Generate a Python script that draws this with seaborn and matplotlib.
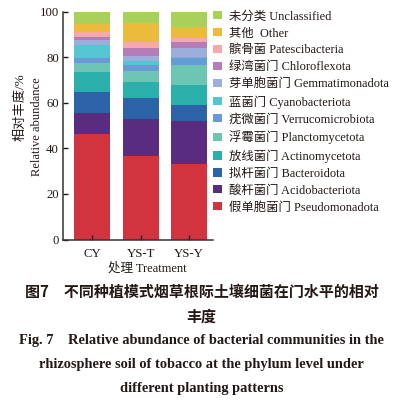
import numpy as np
import pandas as pd
import matplotlib
matplotlib.use("Agg")
import matplotlib.pyplot as plt
from matplotlib.patches import Patch
import seaborn as sns

treatments = ["CY", "YS-T", "YS-Y"]
phyla = [
    "假单胞菌门 Pseudomonadota",
    "酸杆菌门 Acidobacteriota",
    "拟杆菌门 Bacteroidota",
    "放线菌门 Actinomycetota",
    "浮霉菌门 Planctomycetota",
    "疣微菌门 Verrucomicrobiota",
    "蓝菌门 Cyanobacteriota",
    "芽单胞菌门 Gemmatimonadota",
    "绿湾菌门 Chloroflexota",
    "髌骨菌 Patescibacteria",
    "其他  Other",
    "未分类 Unclassified",
]
pseudomonadota = [46.2, 36.8, 33.3]
acidobacteriota = [9.5, 16.1, 18.9]
bacteroidota = [9.2, 9.2, 6.7]
actinomycetota = [8.8, 7.2, 9.1]
planctomycetota = [3.7, 4.7, 8.6]
verrucomicrobiota = [2.4, 2.6, 3.2]
cyanobacteriota = [5.8, 1.8, 0.5]
gemmatimonadota = [1.9, 2.2, 3.9]
chloroflexota = [1.3, 3.3, 2.6]
patescibacteria = [2.1, 2.9, 1.5]
other = [3.9, 8.2, 5.1]
unclassified = [5.2, 5.0, 6.6]

series = [pseudomonadota, acidobacteriota, bacteroidota, actinomycetota,
          planctomycetota, verrucomicrobiota, cyanobacteriota, gemmatimonadota,
          chloroflexota, patescibacteria, other, unclassified]
colors = ["#D2343F", "#5A2C80", "#2B62A8", "#2BAFAA", "#6CC6B3", "#6A9AD6",
          "#55C6D1", "#9CAFDC", "#B57CB8", "#F5A9AA", "#EDBB3B", "#A9D05B"]

txt = "#231815"
plt.rcParams["font.family"] = ["Liberation Serif", "Noto Sans CJK SC"]
plt.rcParams["text.color"] = txt
plt.rcParams["axes.labelcolor"] = txt
plt.rcParams["xtick.color"] = txt
plt.rcParams["ytick.color"] = txt

fig = plt.figure(figsize=(4.03, 4.0), dpi=100)
ax = fig.add_axes([63 / 403, 1 - 239.5 / 400, 150 / 403, 227.8 / 400])

# stacked bars via cumulative overlay (tallest first)
cum = np.cumsum(np.array(series), axis=0)
for i in range(len(series) - 1, -1, -1):
    df = pd.DataFrame({"t": treatments, "v": cum[i]})
    sns.barplot(data=df, x="t", y="v", color=colors[i], width=0.74,
                saturation=1, ax=ax, linewidth=0, errorbar=None)

ax.set_ylim(0, 100)
ax.set_xlim(-0.6, 2.49)
ax.set_yticks([0, 20, 40, 60, 80, 100])
ax.set_xlabel("")
ax.set_ylabel("")
for s in ["top", "right"]:
    ax.spines[s].set_visible(False)
for s in ["left", "bottom"]:
    ax.spines[s].set_color("#333333")
    ax.spines[s].set_linewidth(1.1)
ax.tick_params(direction="in", length=3.5, width=1.0, labelsize=9.2, pad=3)
ax.tick_params(axis="x", pad=6)
ax.set_facecolor("white")

fig.text(20 / 403, 1 - 107 / 400, "相对丰度/%", rotation=90, ha="center",
         va="center", fontsize=9.5)
fig.text(37 / 403, 1 - 127 / 400, "Relative abundance", rotation=90,
         ha="center", va="center", fontsize=9)
fig.text(147 / 403, 1 - 268 / 400, "处理 Treatment", ha="center", va="center",
         fontsize=9)

handles = [Patch(facecolor=colors[i], edgecolor="none", label=phyla[i])
           for i in range(len(phyla) - 1, -1, -1)]
fig.legend(handles=handles, loc="upper left",
           bbox_to_anchor=(211 / 403, 1 - 8 / 400), frameon=False,
           fontsize=8.9, handlelength=0.65, handleheight=0.65,
           handletextpad=0.6, labelspacing=0.40, borderpad=0.2,
           borderaxespad=0)

fig.text(0.5, 1 - 291.7 / 400, "图7\u3000不同种植模式烟草根际土壤细菌在门水平的相对",
         ha="center", va="center", fontsize=10.8, fontweight="bold",
         family=["Noto Sans CJK SC", "DejaVu Sans"])
fig.text(0.5, 1 - 316.7 / 400, "丰度", ha="center", va="center",
         fontsize=10.8, fontweight="bold",
         family=["Noto Sans CJK SC", "DejaVu Sans"])
cap_en = ["Fig. 7    Relative abundance of bacterial communities in the",
          "rhizosphere soil of tobacco at the phylum level under",
          "different planting patterns"]
for k, line in enumerate(cap_en):
    fig.text(0.5, 1 - (340.7 + 23.8 * k) / 400, line, ha="center",
             va="center", fontsize=10.4, fontweight="bold",
             family=["Liberation Serif", "DejaVu Serif"])

fig.savefig("out.png", dpi=100, facecolor="white")
